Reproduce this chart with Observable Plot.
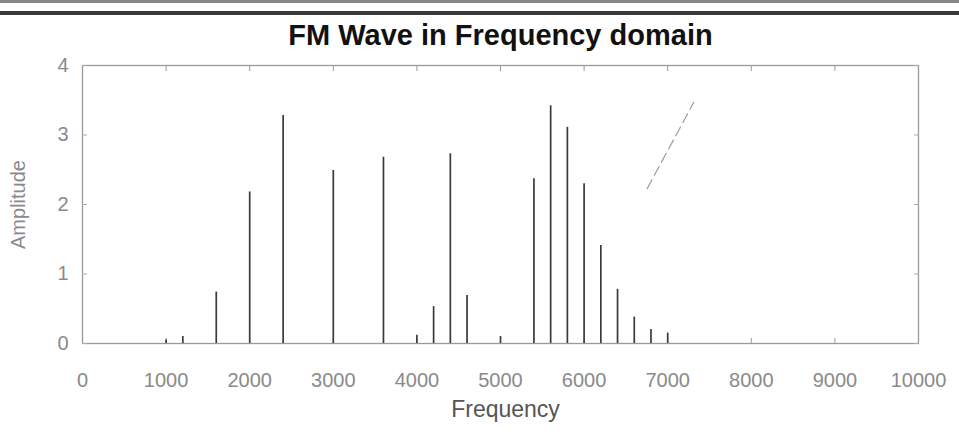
<!DOCTYPE html>
<html>
<head>
<meta charset="utf-8">
<script src="https://cdn.jsdelivr.net/npm/d3@7"></script>
<script src="https://cdn.jsdelivr.net/npm/@observablehq/plot@0.6"></script>
<style>
  html, body { margin: 0; padding: 0; background: #fff; }
  #wrap { position: relative; width: 959px; height: 439px; overflow: hidden; }
  .band1 { position: absolute; left: 0; top: 0; width: 959px; height: 3px; background: #888; }
  .band2 { position: absolute; left: 0; top: 11px; width: 959px; height: 4px; background: #3a3a3a; }
</style>
</head>
<body>
<div id="wrap"><div class="band1"></div><div class="band2"></div></div>
<script>
// Spectrum lines (Hz) and their amplitudes
const frequency = [1000, 1200, 1600, 2000, 2400, 3000, 3600, 4000, 4200, 4400, 4600, 5000, 5400, 5600, 5800, 6000, 6200, 6400, 6600, 6800, 7000];
const amplitude = [0.05, 0.10, 0.74, 2.18, 3.28, 2.49, 2.68, 0.12, 0.53, 2.73, 0.69, 0.10, 2.37, 3.42, 3.11, 2.30, 1.41, 0.78, 0.38, 0.20, 0.15];

// Tick values
const xTicks = [0, 1000, 2000, 3000, 4000, 5000, 6000, 7000, 8000, 9000, 10000];
const yTicks = [0, 1, 2, 3, 4];

// Stray pen stroke visible in the upper right of the picture
const strokeX = [6755, 7312];
const strokeY = [2.23, 3.47];

const titleText = "FM Wave in Frequency domain";
const xLabel = "Frequency";
const yLabel = "Amplitude";

const stems = frequency.map((f, i) => ({f, a: amplitude[i]}));
const stray = strokeX.map((x, i) => ({x, y: strokeY[i]}));

const chart = Plot.plot({
  width: 959,
  height: 439,
  marginLeft: 82,
  marginRight: 41,
  marginTop: 65,
  marginBottom: 96,
  style: {fontFamily: "Liberation Sans, Arial, sans-serif", background: "transparent", overflow: "visible"},
  x: {domain: [0, 10000]},
  y: {domain: [0, 4]},
  marks: [
    Plot.frame({stroke: "#9a9a9a", strokeWidth: 1.3}),
    // inward ticks, all four sides
    Plot.axisX(xTicks, {anchor: "bottom", tickSize: -5, tickFormat: () => "", label: null, stroke: "#999"}),
    Plot.axisX(xTicks, {anchor: "top", tickSize: -5, tickFormat: () => "", label: null, stroke: "#999"}),
    Plot.axisY(yTicks, {anchor: "left", tickSize: -5, tickFormat: () => "", label: null, stroke: "#aaa"}),
    Plot.axisY(yTicks, {anchor: "right", tickSize: -5, tickFormat: () => "", label: null, stroke: "#aaa"}),
    // tick labels
    Plot.axisX(xTicks, {anchor: "bottom", tickSize: 0, tickPadding: 29, label: null, fontSize: 20, fill: "#8a8a8a", tickFormat: d => String(d)}),
    Plot.axisY(yTicks, {anchor: "left", tickSize: 0, tickPadding: 14, label: null, fontSize: 20, fill: "#8a8a8a", tickFormat: d => String(d)}),
    // stems
    Plot.ruleX(stems, {x: "f", y1: 0, y2: "a", stroke: "#3a3a3a", strokeWidth: 1.7}),
    // stray stroke
    Plot.line(stray, {x: "x", y: "y", stroke: "#9a9a9a", strokeWidth: 1.2, strokeDasharray: "10,5"}),
    // titles
    Plot.text([titleText], {frameAnchor: "top", dy: -41, fontSize: 29, fontWeight: "bold", fill: "#111", text: d => d}),
    Plot.text([xLabel], {frameAnchor: "bottom", dx: 5, dy: 73, fontSize: 23, fill: "#555", text: d => d}),
    Plot.text([yLabel], {frameAnchor: "left", textAnchor: "middle", dx: -64, rotate: -90, fontSize: 20, fill: "#8a8a8a", text: d => d})
  ]
});
document.getElementById("wrap").appendChild(chart);
</script>
</body>
</html>
